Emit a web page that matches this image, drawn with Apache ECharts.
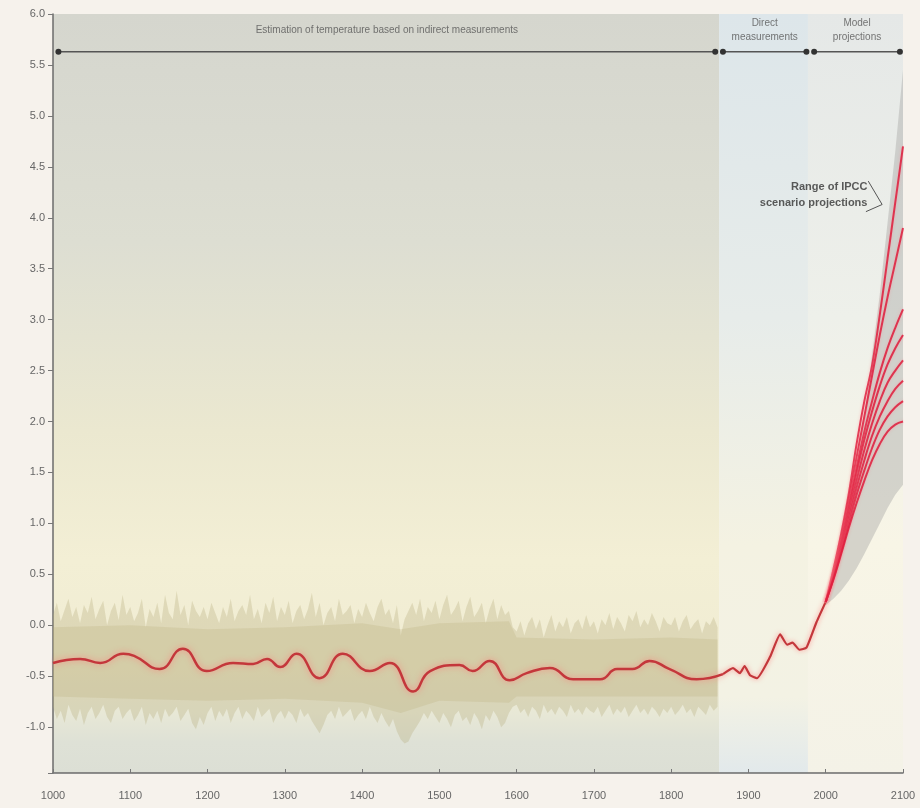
<!DOCTYPE html>
<html><head><meta charset="utf-8">
<script src="https://cdn.jsdelivr.net/npm/echarts@6/dist/echarts.min.js"></script>
<style>html,body{margin:0;padding:0;background:#f6f2ec;}#c{width:920px;height:808px;}</style>
</head><body><div id="c"></div>
<script>
// ---- data ----
const bandYears = [];
for (let y = 1000; y <= 1860; y += 5) bandYears.push(y);
const bandUpper = [
 0.10,0.22,0.04,0.15,0.26,0.08,0.18,0.02,0.20,0.12,0.28,0.06,0.16,0.24,0.00,0.14,0.22,0.05,0.30,0.10,
 0.18,0.04,0.12,0.26,-0.02,0.16,0.08,0.22,0.02,0.30,0.12,0.06,0.34,0.10,0.20,0.00,0.24,0.14,0.08,0.18,
 0.06,0.22,0.12,0.02,0.18,0.08,0.26,0.04,0.14,0.20,0.10,0.30,0.06,0.16,0.02,0.22,0.12,0.28,0.04,0.18,
 0.10,0.24,0.02,0.14,0.20,0.06,0.16,0.32,0.08,0.22,0.00,0.12,0.18,0.04,0.26,0.10,0.14,0.20,0.02,0.16,
 0.08,0.22,0.12,0.04,0.18,0.26,0.10,0.16,0.02,0.20,-0.10,0.06,0.14,0.22,0.10,0.26,0.04,0.18,0.12,0.24,
 0.06,0.20,0.30,0.10,0.16,0.24,0.04,0.18,0.28,0.08,0.14,0.22,0.02,0.16,0.26,0.06,0.20,0.10,0.14,-0.02,
 -0.06,0.04,-0.10,0.02,0.08,-0.04,0.06,-0.12,0.00,0.10,-0.06,0.04,-0.02,0.08,-0.08,0.02,0.06,-0.04,0.10,-0.02,
 0.04,-0.08,0.06,0.00,0.12,-0.04,0.08,0.02,-0.06,0.10,0.04,0.14,-0.02,0.06,0.00,0.12,0.04,-0.06,0.08,0.02,
 0.00,0.08,-0.06,0.04,0.10,-0.04,0.02,0.06,-0.08,0.04,0.00,0.08,-0.02];
const bandLower = [
 -0.80,-0.92,-0.84,-0.96,-0.78,-0.88,-0.94,-0.82,-0.98,-0.86,-0.80,-0.92,-0.86,-0.78,-0.90,-0.96,-0.84,-0.80,-0.92,-0.86,
 -0.82,-0.94,-0.88,-0.80,-0.98,-0.86,-0.92,-0.84,-0.96,-0.82,-0.90,-0.86,-0.80,-0.94,-0.88,-0.82,-0.96,-1.02,-0.90,-0.98,
 -0.86,-0.80,-0.94,-0.84,-0.90,-0.82,-0.96,-0.86,-0.80,-0.92,-0.84,-0.88,-0.94,-0.80,-0.90,-0.86,-0.82,-0.96,-0.88,-0.84,
 -0.92,-0.84,-0.88,-0.96,-0.82,-0.90,-0.86,-0.94,-1.00,-1.06,-0.98,-0.88,-0.84,-0.92,-0.80,-0.90,-0.86,-0.82,-0.94,-0.88,
 -0.84,-0.92,-0.80,-0.90,-0.96,-0.86,-0.94,-1.00,-0.92,-1.04,-1.12,-1.16,-1.14,-1.06,-1.00,-0.94,-0.86,-0.92,-0.84,-0.90,
 -0.96,-0.86,-0.92,-1.00,-0.88,-0.84,-0.94,-0.90,-0.98,-0.86,-0.92,-1.02,-0.88,-0.94,-0.84,-0.90,-1.00,-0.96,-0.86,-0.80,
 -0.78,-0.86,-0.82,-0.90,-0.80,-0.84,-0.92,-0.78,-0.86,-0.82,-0.88,-0.80,-0.84,-0.90,-0.78,-0.86,-0.82,-0.88,-0.80,-0.84,
 -0.86,-0.80,-0.90,-0.84,-0.78,-0.88,-0.82,-0.86,-0.80,-0.90,-0.84,-0.78,-0.86,-0.82,-0.88,-0.80,-0.84,-0.90,-0.82,-0.86,
 -0.80,-0.88,-0.84,-0.78,-0.86,-0.82,-0.90,-0.80,-0.84,-0.88,-0.78,-0.84,-0.80];
// denser core of the variability band
const coreYears = [1000,1100,1200,1300,1400,1450,1500,1590,1600,1700,1800,1860];
const coreUpper = [-0.02,0.00,-0.04,-0.02,0.02,-0.04,0.02,0.04,-0.12,-0.14,-0.12,-0.14];
const coreLower = [-0.70,-0.72,-0.74,-0.72,-0.76,-0.86,-0.74,-0.76,-0.70,-0.70,-0.70,-0.70];

const proxyYears = [1000,1035,1061,1091,1105,1138,1168,1199,1233,1259,1277,1294,1315,1345,1375,1410,1436,1466,1488,1526,1543,1565,1591,1613,1643,1673,1708,1730,1750,1772,1798,1833,1867];
const proxyTemps = [-0.37,-0.33,-0.37,-0.28,-0.30,-0.43,-0.23,-0.45,-0.37,-0.38,-0.33,-0.41,-0.28,-0.52,-0.28,-0.45,-0.37,-0.65,-0.45,-0.39,-0.45,-0.35,-0.54,-0.47,-0.42,-0.53,-0.53,-0.43,-0.43,-0.35,-0.43,-0.53,-0.48];

const directYears = [1867,1880,1889,1895,1902,1911,1928,1941,1950,1957,1966,1975,1988,2000];
const directTemps = [-0.48,-0.42,-0.47,-0.40,-0.49,-0.52,-0.31,-0.09,-0.19,-0.17,-0.24,-0.22,0.03,0.23];

const projYears = [2000,2010,2020,2030,2040,2050,2060,2070,2080,2090,2100];
const projA = [0.23,0.55,0.90,1.30,1.78,2.20,2.55,3.05,3.60,4.15,4.70];
const projB = [0.23,0.52,0.86,1.25,1.65,2.05,2.45,2.85,3.22,3.56,3.90];
const projC = [0.23,0.50,0.82,1.18,1.55,1.90,2.20,2.48,2.72,2.92,3.10];
const projD = [0.23,0.50,0.80,1.15,1.50,1.82,2.10,2.35,2.56,2.72,2.85];
const projE = [0.23,0.48,0.78,1.10,1.42,1.72,1.98,2.20,2.38,2.50,2.60];
const projF = [0.23,0.47,0.75,1.05,1.35,1.62,1.86,2.05,2.20,2.32,2.40];
const projG = [0.23,0.46,0.72,1.00,1.28,1.52,1.74,1.92,2.05,2.14,2.20];
const projH = [0.23,0.45,0.70,0.96,1.20,1.42,1.62,1.78,1.90,1.97,2.00];
const projections = [projA,projB,projC,projD,projE,projF,projG,projH];

const rangeUpper = [0.22,0.45,0.75,1.10,1.55,2.05,2.65,3.25,3.95,4.65,5.45];
const rangeLower = [0.20,0.26,0.34,0.44,0.56,0.70,0.85,1.00,1.15,1.28,1.38];

const xTicks = [1000,1100,1200,1300,1400,1500,1600,1700,1800,1900,2000,2100];
const periods = [
  {name:'Estimation of temperature based on indirect measurements', from:1000, to:1862, arrowFrom:1007, arrowTo:1857},
  {name:'Direct\nmeasurements', from:1862, to:1977, arrowFrom:1867, arrowTo:1975},
  {name:'Model\nprojections', from:1977, to:2100, arrowFrom:1985, arrowTo:2096}
];
const annotationText = 'Range of IPCC\nscenario projections';

// ---- chart ----
const yMin = -1.45, yMax = 6.0, headerY = 5.63;
const pair = (xs, ys) => xs.map((x, i) => [x, ys[i]]);
const FONT = 'Liberation Sans, Arial, sans-serif';

const bgColors = [
  {type:'linear',x:0,y:0,x2:0,y2:1,colorStops:[
    {offset:0,color:'#d5d6ce'},{offset:0.3,color:'#ddded2'},{offset:0.55,color:'#ebe8d0'},
    {offset:0.72,color:'#f3efd5'},{offset:0.86,color:'#f0ecd3'},{offset:0.92,color:'#e8e8d6'},
    {offset:0.96,color:'#dee1d6'},{offset:1,color:'#dcdfd5'}]},
  {type:'linear',x:0,y:0,x2:0,y2:1,colorStops:[
    {offset:0,color:'#dde6ea'},{offset:0.4,color:'#e7ecea'},{offset:0.7,color:'#f4f2e2'},
    {offset:0.9,color:'#f3f2e4'},{offset:1,color:'#e2e9eb'}]},
  {type:'linear',x:0,y:0,x2:0,y2:1,colorStops:[
    {offset:0,color:'#e5e8e7'},{offset:0.4,color:'#eef0ea'},{offset:0.7,color:'#f8f5e6'},
    {offset:1,color:'#f4f2e7'}]}
];

// band polygon drawn via custom series (upper edge forward, lower edge back)
function bandSeries(xs, up, lo, color, z) {
  return {
    type:'custom', z:z, silent:true, clip:true,
    data: xs.map((x,i) => [x, up[i], lo[i]]),
    encode:{x:0, y:[1,2]},
    renderItem: function(params, api) {
      if (params.dataIndex !== 0) return null;
      const pts = [];
      for (let i = 0; i < xs.length; i++) pts.push(api.coord([xs[i], up[i]]));
      for (let i = xs.length - 1; i >= 0; i--) pts.push(api.coord([xs[i], lo[i]]));
      return {type:'polygon', shape:{points:pts}, style:{fill:color}};
    }
  };
}

const series = [];
// background regions
series.push({
  type:'line', data:[[1000, yMin]], symbol:'none', z:0, silent:true, lineStyle:{opacity:0},
  markArea:{silent:true, z:0, data: periods.map((p,i)=>[
    {xAxis:p.from, yAxis:yMax, itemStyle:{color:bgColors[i]}},
    {xAxis:p.to, yAxis:yMin}])}
});
series.push(bandSeries(bandYears, bandUpper, bandLower, 'rgba(178,168,118,0.30)', 1));
series.push(bandSeries(coreYears, coreUpper, coreLower, 'rgba(185,175,122,0.26)', 1));
series.push(bandSeries(projYears, rangeUpper, rangeLower, 'rgba(170,170,168,0.45)', 1));
// historical reconstructed line
series.push({type:'line', data:pair(proxyYears, proxyTemps), symbol:'none', smooth:0.5, z:3,
  lineStyle:{color:'#c4373b', width:2.5, shadowColor:'rgba(255,120,120,0.8)', shadowBlur:6}});
series.push({type:'line', data:pair(directYears, directTemps), symbol:'none', smooth:0.15, z:3,
  lineStyle:{color:'#c4373b', width:2.2, shadowColor:'rgba(255,120,120,0.8)', shadowBlur:5}});
// projections
projections.forEach(p => series.push({type:'line', data:pair(projYears, p), symbol:'none', smooth:0.4, z:4,
  lineStyle:{color:'rgba(222,28,60,0.85)', width:2, shadowColor:'rgba(255,140,150,0.6)', shadowBlur:3}}));
// header arrows
periods.forEach(p => series.push({type:'line', data:[[p.arrowFrom, headerY],[p.arrowTo, headerY]], symbol:'circle', symbolSize:6, z:5,
  itemStyle:{color:'#333'}, lineStyle:{color:'#555', width:1.5}, silent:true}));
// header labels
series.push({type:'scatter', symbolSize:0, z:6, silent:true,
  data: periods.map(p => ({value:[(p.arrowFrom+p.arrowTo)/2, 5.84], label:{show:true, formatter:p.name}})),
  label:{show:true, position:'inside', color:'#555', fontSize:10, lineHeight:14, fontFamily:FONT}});
// annotation
series.push({type:'scatter', symbolSize:0, z:6, silent:true,
  data:[{value:[2054, 4.22]}],
  label:{show:true, position:'left', distance:0, formatter:annotationText, align:'right', color:'#333', fontSize:11, fontWeight:'bold', lineHeight:16, fontFamily:FONT}});
series.push({type:'line', data:[[2055,4.36],[2073,4.13]], symbol:'none', z:6, silent:true, lineStyle:{color:'#555', width:1}});
series.push({type:'line', data:[[2052,4.06],[2073,4.13]], symbol:'none', z:6, silent:true, lineStyle:{color:'#555', width:1}});

const chart = echarts.init(document.getElementById('c'));
chart.setOption({
  backgroundColor:'#f6f2ec',
  animation:false,
  grid:{left:53, right:17, top:14, bottom:35, containLabel:false},
  xAxis:{type:'value', min:1000, max:2100, interval:100,
    axisLine:{onZero:false, lineStyle:{color:'#6b6b6b', width:1.5}},
    axisTick:{inside:true, length:4, lineStyle:{color:'#777'}},
    axisLabel:{color:'#666', fontSize:11, margin:17, fontFamily:FONT, showMaxLabel:true,
      formatter: v => String(v)},
    splitLine:{show:false}},
  yAxis:{type:'value', min:yMin, max:yMax, minInterval:0.5, maxInterval:0.5,
    axisLine:{show:true, lineStyle:{color:'#6b6b6b', width:1.5}},
    axisTick:{show:true, length:5, lineStyle:{color:'#777'}},
    axisLabel:{color:'#666', fontSize:11, margin:8, fontFamily:FONT,
      formatter:v => (Math.abs(v*2 - Math.round(v*2)) > 1e-6) ? '' : v.toFixed(1)},
    splitLine:{show:true, lineStyle:{color:'rgba(255,255,255,0.55)', width:1}}},
  series: series
});
</script></body></html>
